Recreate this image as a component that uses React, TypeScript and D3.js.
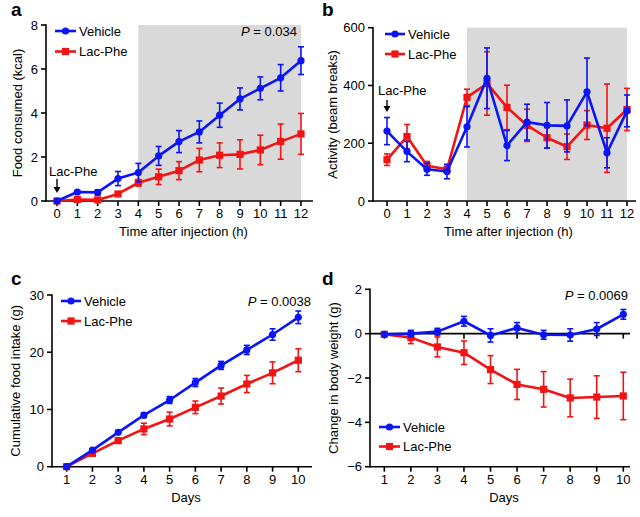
import React from "react";
import * as d3 from "d3";

const hours = [0, 1, 2, 3, 4, 5, 6, 7, 8, 9, 10, 11, 12];
const days = [1, 2, 3, 4, 5, 6, 7, 8, 9, 10];

const aVehicle = [0, 0.41, 0.39, 1.02, 1.29, 2.05, 2.7, 3.14, 3.9, 4.64, 5.12, 5.6, 6.38];
const aVehicleErr = [0, 0.04, 0.12, 0.32, 0.42, 0.43, 0.5, 0.5, 0.55, 0.5, 0.52, 0.6, 0.63];
const aLacPhe = [0, 0.07, 0.05, 0.32, 0.83, 1.1, 1.38, 1.86, 2.08, 2.12, 2.32, 2.7, 3.05];
const aLacPheErr = [0, 0.03, 0.03, 0.05, 0.15, 0.35, 0.41, 0.53, 0.56, 0.66, 0.67, 0.8, 0.93];

const bVehicle = [242, 171, 110, 102, 257, 425, 192, 273, 262, 260, 378, 167, 312];
const bVehicleErr = [47, 35, 21, 25, 70, 105, 52, 62, 79, 90, 117, 52, 55];
const bLacPhe = [143, 223, 122, 110, 359, 407, 324, 262, 219, 188, 263, 252, 317];
const bLacPheErr = [20, 42, 15, 10, 28, 110, 77, 56, 35, 44, 50, 153, 73];

const cVehicle = [0, 2.9, 6.0, 9.0, 11.65, 14.7, 17.7, 20.4, 23.1, 26.1];
const cVehicleErr = [0, 0.2, 0.3, 0.4, 0.6, 0.7, 0.7, 0.8, 1.0, 1.1];
const cLacPhe = [0, 2.33, 4.55, 6.6, 8.33, 10.37, 12.35, 14.45, 16.4, 18.6];
const cLacPheErr = [0, 0.3, 0.4, 1.0, 1.2, 1.1, 1.4, 1.5, 1.9, 2.0];

const dVehicle = [-0.03, 0, 0.09, 0.56, -0.08, 0.26, -0.05, -0.06, 0.21, 0.87];
const dVehicleErr = [0.05, 0.15, 0.15, 0.22, 0.3, 0.24, 0.2, 0.28, 0.29, 0.22];
const dLacPhe = [-0.03, -0.18, -0.6, -0.86, -1.62, -2.29, -2.51, -2.9, -2.86, -2.81];
const dLacPheErr = [0.05, 0.27, 0.45, 0.53, 0.63, 0.68, 0.8, 0.85, 0.96, 1.07];

const aYTicks = [0, 2, 4, 6, 8];
const bYTicks = [0, 200, 400, 600];
const cYTicks = [0, 10, 20, 30];
const dYTicks = [-6, -4, -2, 0, 2];

const seriesNames = ["Vehicle", "Lac-Phe"];
const BLUE = "#0a14f5";
const RED = "#f21414";
const FONT = "'Liberation Sans', Arial, Helvetica, sans-serif";

type Series = { xs: number[]; vals: number[]; errs: number[]; color: string; marker: "circle" | "square" };

type PanelProps = {
  label: string;
  labelX: number;
  labelY: number;
  x: d3.ScaleLinear<number, number>;
  y: d3.ScaleLinear<number, number>;
  axisLeft: number;
  axisRight: number;
  xTicks: number[];
  yTicks: number[];
  band?: [number, number];
  zeroLine?: boolean;
  series: Series[];
  legendX: number;
  legendY: number;
  legendLen: number;
  legendGap: number;
  pText?: { x: number; y: number; text: string };
  annotation?: { x: number; tx: number; ty: number; y1: number; y2: number };
  xTitle: string;
  yTitle: string;
  yTitleX: number;
};

function Marker({ cx, cy, color, marker }: { cx: number; cy: number; color: string; marker: string }) {
  if (marker === "circle") return <circle cx={cx} cy={cy} r={3.6} fill={color} />;
  return <rect x={cx - 3.6} y={cy - 3.6} width={7.2} height={7.2} fill={color} />;
}

function Panel(p: PanelProps) {
  const [y0, y1] = p.y.range();
  const bottom = Math.max(y0, y1);
  const top = Math.min(y0, y1);
  const line = d3
    .line<[number, number]>()
    .x((d) => p.x(d[0]))
    .y((d) => p.y(d[1]));
  const ordered = [...p.series].reverse();
  return (
    <g fontFamily={FONT}>
      <text x={p.labelX} y={p.labelY} fontSize={19} fontWeight="bold" fill="#000">
        {p.label}
      </text>
      {p.band && (
        <rect
          x={p.x(p.band[0])}
          y={top}
          width={p.x(p.band[1]) - p.x(p.band[0])}
          height={bottom - top}
          fill="#d9d9d9"
        />
      )}
      {/* y axis */}
      <line x1={p.axisLeft} x2={p.axisLeft} y1={top - 0.8} y2={bottom + 0.8} stroke="#000" strokeWidth={1.6} />
      {p.yTicks.map((t) => (
        <g key={"y" + t}>
          <line x1={p.axisLeft - 5} x2={p.axisLeft} y1={p.y(t)} y2={p.y(t)} stroke="#000" strokeWidth={1.6} />
          <text x={p.axisLeft - 8} y={p.y(t)} dy="0.35em" textAnchor="end" fontSize={13} fill="#000">
            {d3.format("")(t)}
          </text>
        </g>
      ))}
      {/* x axis */}
      <line x1={p.axisLeft} x2={p.axisRight} y1={bottom} y2={bottom} stroke="#000" strokeWidth={1.6} />
      {p.xTicks.map((t) => (
        <g key={"x" + t}>
          <line x1={p.x(t)} x2={p.x(t)} y1={bottom} y2={bottom + 5} stroke="#000" strokeWidth={1.6} />
          <text x={p.x(t)} y={bottom + 17} textAnchor="middle" fontSize={13} fill="#000">
            {t}
          </text>
        </g>
      ))}
      {p.zeroLine && (
        <g>
          <line x1={p.axisLeft} x2={p.axisRight} y1={p.y(0)} y2={p.y(0)} stroke="#000" strokeWidth={1.6} />
          {p.xTicks.map((t) => (
            <line key={"z" + t} x1={p.x(t)} x2={p.x(t)} y1={p.y(0)} y2={p.y(0) + 5} stroke="#000" strokeWidth={1.6} />
          ))}
        </g>
      )}
      <text x={(p.axisLeft + p.axisRight) / 2 + 4} y={bottom + 35} textAnchor="middle" fontSize={13} fill="#000">
        {p.xTitle}
      </text>
      <text
        transform={`translate(${p.yTitleX},${(top + bottom) / 2}) rotate(-90)`}
        textAnchor="middle"
        fontSize={13}
        fill="#000"
      >
        {p.yTitle}
      </text>
      {/* series */}
      {ordered.map((s, si) => {
        const pts: [number, number][] = s.xs.map((xv, i) => [xv, s.vals[i]]);
        return (
          <g key={"s" + si}>
            <path d={line(pts) || ""} fill="none" stroke={s.color} strokeWidth={2.6} strokeLinejoin="round" />
            {s.xs.map((xv, i) => {
              const e = s.errs[i];
              if (e <= 0) return null;
              const cx = p.x(xv);
              const yt = p.y(s.vals[i] + e);
              const yb = p.y(s.vals[i] - e);
              return (
                <g key={"e" + i} stroke={s.color} strokeWidth={1.6}>
                  <line x1={cx} x2={cx} y1={yt} y2={yb} />
                  <line x1={cx - 3} x2={cx + 3} y1={yt} y2={yt} />
                  <line x1={cx - 3} x2={cx + 3} y1={yb} y2={yb} />
                </g>
              );
            })}
            {s.xs.map((xv, i) => (
              <Marker key={"m" + i} cx={p.x(xv)} cy={p.y(s.vals[i])} color={s.color} marker={s.marker} />
            ))}
          </g>
        );
      })}
      {/* legend */}
      {p.series.map((s, i) => {
        const ly = p.legendY + i * p.legendGap;
        return (
          <g key={"l" + i}>
            <line x1={p.legendX} x2={p.legendX + p.legendLen} y1={ly} y2={ly} stroke={s.color} strokeWidth={2.6} />
            <Marker cx={p.legendX + p.legendLen / 2} cy={ly} color={s.color} marker={s.marker} />
            <text x={p.legendX + p.legendLen + 3} y={ly} dy="0.36em" fontSize={13} fill="#000">
              {seriesNames[i]}
            </text>
          </g>
        );
      })}
      {p.pText && (
        <text x={p.pText.x} y={p.pText.y} dy="0.36em" textAnchor="end" fontSize={13} fill="#000">
          <tspan fontStyle="italic">P</tspan>
          {" = " + p.pText.text}
        </text>
      )}
      {p.annotation && (
        <g>
          <text x={p.annotation.tx} y={p.annotation.ty} dy="0.36em" fontSize={13} fill="#000">
            Lac-Phe
          </text>
          <line
            x1={p.annotation.x}
            x2={p.annotation.x}
            y1={p.annotation.y1}
            y2={p.annotation.y2 - 4}
            stroke="#000"
            strokeWidth={1.4}
          />
          <path
            d={`M${p.annotation.x - 3.5},${p.annotation.y2 - 6} L${p.annotation.x + 3.5},${p.annotation.y2 - 6} L${p.annotation.x},${p.annotation.y2} Z`}
            fill="#000"
          />
        </g>
      )}
    </g>
  );
}

export default function App() {
  const ax = d3.scaleLinear().domain([0, 12]).range([57, 301]);
  const ay = d3.scaleLinear().domain([0, 8]).range([201, 25]);
  const bx = d3.scaleLinear().domain([0, 12]).range([387, 627]);
  const by = d3.scaleLinear().domain([0, 600]).range([201, 27.7]);
  const cx = d3.scaleLinear().domain([1, 10]).range([66.7, 298.3]);
  const cy = d3.scaleLinear().domain([0, 30]).range([466.7, 295]);
  const dx = d3.scaleLinear().domain([1, 10]).range([384.3, 623.3]);
  const dy = d3.scaleLinear().domain([-6, 2]).range([466.7, 289.3]);

  return (
    <svg width={640} height={517} style={{ position: "absolute", left: 0, top: 0, background: "#fff" }}>
      <rect width={640} height={517} fill="#fff" />
      <Panel
        label="a"
        labelX={11}
        labelY={16}
        x={ax}
        y={ay}
        axisLeft={46}
        axisRight={313}
        xTicks={hours}
        yTicks={aYTicks}
        band={[4, 12]}
        series={[
          { xs: hours, vals: aVehicle, errs: aVehicleErr, color: BLUE, marker: "circle" },
          { xs: hours, vals: aLacPhe, errs: aLacPheErr, color: RED, marker: "square" },
        ]}
        legendX={55}
        legendY={31}
        legendLen={21}
        legendGap={20.5}
        pText={{ x: 297, y: 31, text: "0.034" }}
        annotation={{ x: 57, tx: 49, ty: 171, y1: 179, y2: 193 }}
        xTitle="Time after injection (h)"
        yTitle="Food consumed (kcal)"
        yTitleX={22}
      />
      <Panel
        label="b"
        labelX={322}
        labelY={16}
        x={bx}
        y={by}
        axisLeft={373}
        axisRight={636}
        xTicks={hours}
        yTicks={bYTicks}
        band={[4, 12]}
        series={[
          { xs: hours, vals: bVehicle, errs: bVehicleErr, color: BLUE, marker: "circle" },
          { xs: hours, vals: bLacPhe, errs: bLacPheErr, color: RED, marker: "square" },
        ]}
        legendX={385}
        legendY={34}
        legendLen={20}
        legendGap={20}
        annotation={{ x: 387, tx: 378, ty: 90, y1: 100, y2: 112 }}
        xTitle="Time after injection (h)"
        yTitle="Activity (beam breaks)"
        yTitleX={337}
      />
      <Panel
        label="c"
        labelX={11}
        labelY={285}
        x={cx}
        y={cy}
        axisLeft={52}
        axisRight={312}
        xTicks={days}
        yTicks={cYTicks}
        series={[
          { xs: days, vals: cVehicle, errs: cVehicleErr, color: BLUE, marker: "circle" },
          { xs: days, vals: cLacPhe, errs: cLacPheErr, color: RED, marker: "square" },
        ]}
        legendX={61}
        legendY={301}
        legendLen={20}
        legendGap={20}
        pText={{ x: 311, y: 301, text: "0.0038" }}
        xTitle="Days"
        yTitle="Cumulative food intake (g)"
        yTitleX={20}
      />
      <Panel
        label="d"
        labelX={322}
        labelY={285}
        x={dx}
        y={dy}
        axisLeft={370}
        axisRight={630}
        xTicks={days}
        yTicks={dYTicks}
        zeroLine
        series={[
          { xs: days, vals: dVehicle, errs: dVehicleErr, color: BLUE, marker: "circle" },
          { xs: days, vals: dLacPhe, errs: dLacPheErr, color: RED, marker: "square" },
        ]}
        legendX={379}
        legendY={427}
        legendLen={21}
        legendGap={19.5}
        pText={{ x: 628, y: 295, text: "0.0069" }}
        xTitle="Days"
        yTitle="Change in body weight (g)"
        yTitleX={338}
      />
    </svg>
  );
}
